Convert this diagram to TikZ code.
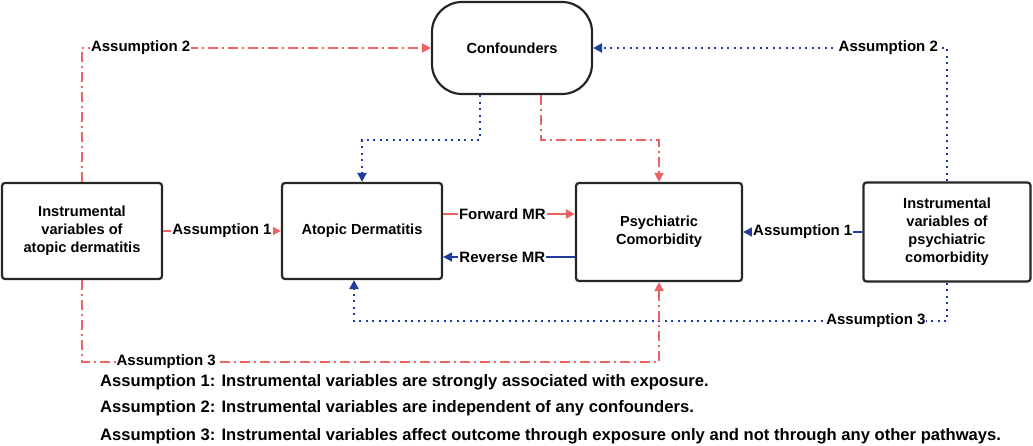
\documentclass[tikz,border=0pt]{standalone}
\usepackage{fontspec}
\setmainfont{Liberation Sans}
\usetikzlibrary{arrows.meta}
\definecolor{rd}{HTML}{F06262}
\definecolor{bl}{HTML}{1F3C9C}
\tikzset{
 box/.style={draw=black!85,line width=2.2pt,rounded corners=3pt,minimum width=#1,align=center,font=\fontsize{14.6}{18}\selectfont\bfseries,inner sep=0pt},
 rdd/.style={draw=rd,line width=2pt,dash pattern=on 10pt off 4pt on 2pt off 4pt,-{Triangle[length=9pt,width=9pt]}},
 bld/.style={draw=bl,line width=2.5pt,dash pattern=on 2pt off 4.5pt,-{Triangle[length=9pt,width=9pt]}},
 lab/.style={fill=white,font=\fontsize{15}{18}\selectfont\bfseries,inner sep=1pt},
 rs/.style={draw=rd,line width=2pt,-{Triangle[length=9pt,width=9pt]}},
 bs/.style={draw=bl,line width=2pt,-{Triangle[length=9pt,width=9pt]}},
}
\begin{document}
\begin{tikzpicture}[x=1pt,y=-1pt]
\useasboundingbox (0,0) rectangle (1033,446);
\node[box=160pt,minimum height=96pt] (ivad) at (82,231) {Instrumental\\variables of\\atopic dermatitis};
\node[box=160pt,minimum height=96pt] (ad) at (362,231) {Atopic Dermatitis};
\node[box=166pt,minimum height=98pt] (pc) at (659,232) {Psychiatric\\Comorbidity};
\node[box=167pt,minimum height=99pt] (ivpc) at (947,232) {Instrumental\\variables of\\psychiatric\\comorbidity};
\node[box=160pt,minimum height=92pt,rounded corners=30pt] (cf) at (512,48) {Confounders};
% assumption 2
\draw[rdd] (ivad.north) |- (cf.west) node[lab,pos=0.584] {Assumption 2};
\draw[bld] (ivpc.north) |- (cf.east) node[lab,pos=0.583] {Assumption 2};
% confounders down
\draw[bld] (cf.south -| 480,0) -- (480,140) -| (ad.north);
\draw[rdd] (cf.south -| 541,0) -- (541,140) -| (pc.north);
% assumption 1
\draw[rs] (ivad.east) -- (ad.west) node[lab,midway] {Assumption 1};
\draw[bs] (ivpc.west) -- (pc.east) node[lab,midway] {Assumption 1};
% MR
\draw[rs] (ad.east |- 0,214) -- (pc.west |- 0,214) node[lab,pos=0.45] {Forward MR};
\draw[bs] (pc.west |- 0,257) -- (ad.east |- 0,257) node[lab,pos=0.55] {Reverse MR};
% assumption 3
\draw[bld] (ivpc.south) |- (354,321) node[lab,pos=0.56] {Assumption 3} -- (ad.south -| 354,0);
\draw[rdd] (ivad.south) |- (659,362) node[lab,pos=0.573] {Assumption 3} -- (pc.south);
% legend
\begin{scope}[every node/.style={anchor=west,font=\fontsize{16.6}{19}\selectfont\bfseries,inner sep=0pt}]
\node (l1) at (100,382) {Assumption 1: Instrumental variables are strongly associated with exposure.};
\node (l2) at (100,408) {Assumption 2: Instrumental variables are independent of any confounders.};
\node (l3) at (100,436) {Assumption 3: Instrumental variables affect outcome through exposure only and not through any other pathways.};
\end{scope}
\end{tikzpicture}
\end{document}
